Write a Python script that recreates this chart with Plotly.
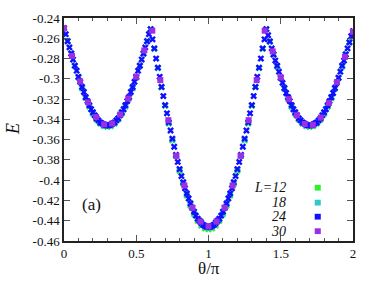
import numpy as np
import plotly.graph_objects as go

# ---------------- data ----------------
theta_dense = np.linspace(0, 2, 161)   # L=24 sampling
theta_mid = np.linspace(0, 2, 81)      # L=12, L=18 sampling
theta_l30 = np.linspace(0, 2, 37)      # L=30 sampling

E_L24 = [
    -0.250, -0.256, -0.263, -0.269, -0.275, -0.281, -0.287, -0.292, -0.298, -0.303,
    -0.308, -0.313, -0.318, -0.322, -0.326, -0.330, -0.333, -0.336, -0.339, -0.341,
    -0.343, -0.344, -0.345, -0.346, -0.346, -0.346, -0.345, -0.344, -0.343, -0.341,
    -0.339, -0.336, -0.333, -0.330, -0.326, -0.322, -0.318, -0.313, -0.308, -0.303,
    -0.298, -0.292, -0.287, -0.281, -0.275, -0.269, -0.263, -0.256, -0.251,
    -0.261, -0.270, -0.280, -0.289, -0.298, -0.308, -0.317, -0.326, -0.334, -0.343,
    -0.351, -0.359, -0.367, -0.375, -0.382, -0.389, -0.396, -0.402, -0.408, -0.413,
    -0.418, -0.423, -0.427, -0.431, -0.435, -0.438, -0.440, -0.442, -0.444, -0.445,
    -0.446, -0.446,
    -0.446, -0.445, -0.444, -0.442, -0.440, -0.438, -0.435, -0.431, -0.427, -0.423,
    -0.418, -0.413, -0.408, -0.402, -0.396, -0.389, -0.382, -0.375, -0.367, -0.359,
    -0.351, -0.343, -0.334, -0.326, -0.317, -0.308, -0.298, -0.289, -0.280, -0.270,
    -0.261, -0.251,
    -0.257, -0.263, -0.270, -0.276, -0.282, -0.287, -0.293, -0.299, -0.304, -0.309,
    -0.314, -0.318, -0.322, -0.326, -0.330, -0.333, -0.336, -0.339, -0.341, -0.343,
    -0.344, -0.345, -0.346, -0.346,
    -0.346, -0.345, -0.344, -0.343, -0.341, -0.339, -0.336, -0.333, -0.330, -0.326,
    -0.322, -0.318, -0.314, -0.309, -0.304, -0.299, -0.293, -0.287, -0.282, -0.276,
    -0.270, -0.264, -0.258, -0.253,
]

E_L12 = [
    -0.2500, -0.2627, -0.2752, -0.2873, -0.2988, -0.3094, -0.3189, -0.3274, -0.3344, -0.3401,
    -0.3442, -0.3467, -0.3475, -0.3467, -0.3442, -0.3401, -0.3344, -0.3274, -0.3189, -0.3094,
    -0.2988, -0.2873, -0.2752, -0.2627, -0.2510,
    -0.2704, -0.2895, -0.3083, -0.3266, -0.3441, -0.3607, -0.3763, -0.3907, -0.4037, -0.4152,
    -0.4252, -0.4335, -0.4400, -0.4447, -0.4476, -0.4485,
    -0.4476, -0.4447, -0.4400, -0.4335, -0.4252, -0.4152, -0.4037, -0.3907, -0.3763, -0.3607,
    -0.3441, -0.3266, -0.3083, -0.2895, -0.2704, -0.2510,
    -0.2636, -0.2760, -0.2879, -0.2993, -0.3098, -0.3192, -0.3276, -0.3346, -0.3402, -0.3442,
    -0.3467, -0.3475,
    -0.3467, -0.3442, -0.3402, -0.3346, -0.3276, -0.3192, -0.3098, -0.2993, -0.2879, -0.2760,
    -0.2640, -0.2535,
]

E_L18 = [
    -0.2500, -0.2626, -0.2750, -0.2870, -0.2984, -0.3089, -0.3184, -0.3267, -0.3337, -0.3393,
    -0.3434, -0.3459, -0.3467, -0.3459, -0.3434, -0.3393, -0.3337, -0.3267, -0.3184, -0.3089,
    -0.2984, -0.2870, -0.2750, -0.2626, -0.2510,
    -0.2702, -0.2892, -0.3079, -0.3260, -0.3434, -0.3599, -0.3753, -0.3896, -0.4025, -0.4140,
    -0.4239, -0.4321, -0.4386, -0.4432, -0.4461, -0.4470,
    -0.4461, -0.4432, -0.4386, -0.4321, -0.4239, -0.4140, -0.4025, -0.3896, -0.3753, -0.3599,
    -0.3434, -0.3260, -0.3079, -0.2892, -0.2702, -0.2510,
    -0.2635, -0.2758, -0.2876, -0.2989, -0.3093, -0.3187, -0.3269, -0.3339, -0.3394, -0.3434,
    -0.3459, -0.3467,
    -0.3459, -0.3434, -0.3394, -0.3339, -0.3269, -0.3187, -0.3093, -0.2989, -0.2876, -0.2758,
    -0.2639, -0.2535,
]

E_L30 = [
    -0.2500, -0.2774, -0.3025, -0.3232, -0.3377, -0.3449, -0.3441, -0.3353, -0.3195, -0.2978,
    -0.2720, -0.2525, -0.3013, -0.3408, -0.3760, -0.4053, -0.4273, -0.4409, -0.4455, -0.4409,
    -0.4273, -0.4053, -0.3760, -0.3408, -0.3013, -0.2525, -0.2729, -0.2985, -0.3201, -0.3359,
    -0.3446, -0.3454, -0.3382, -0.3238, -0.3032, -0.2783, -0.2535,
]

series_names = ["L=12", "18", "24", "30"]
series_colors = ["#2ef02e", "#2fc9c9", "#1010ff", "#9a2fe6"]

x_tickvals = [0, 0.5, 1, 1.5, 2]
x_ticktext = ["0", "0.5", "1", "1.5", "2"]
y_tickvals = [-0.24, -0.26, -0.28, -0.30, -0.32, -0.34, -0.36, -0.38, -0.40, -0.42, -0.44, -0.46]
y_ticktext = ["-0.24", "-0.26", "-0.28", "-0.3", "-0.32", "-0.34", "-0.36", "-0.38", "-0.4", "-0.42", "-0.44", "-0.46"]

# ---------------- figure ----------------
SERIF = "Liberation Serif"
fig = go.Figure()

traces = [
    (theta_mid, E_L12, series_colors[0], "x", 6),
    (theta_mid, E_L18, series_colors[1], "x", 6),
    (theta_dense, E_L24, series_colors[2], "x", 6),
    (theta_l30, E_L30, series_colors[3], "square", 6),
]
for (tx, ty, col, sym, sz), nm in zip(traces, series_names):
    fig.add_trace(go.Scatter(
        x=tx, y=ty, mode="markers", name=nm, showlegend=False, hoverinfo="skip",
        marker=dict(symbol=sym, size=sz, color=col, line=dict(width=0)),
    ))

axis_common = dict(
    showline=True, linecolor="#222", linewidth=1.5, mirror="ticks",
    ticks="inside", tickcolor="#555", tickwidth=1, showgrid=False, zeroline=False,
    tickfont=dict(family=SERIF, size=13, color="#111"),
)
fig.update_xaxes(range=[0, 2], tickvals=x_tickvals, ticktext=x_ticktext, ticklen=6,
                 minor=dict(dtick=0.1, tick0=0, ticks="inside", ticklen=3, tickcolor="#555"),
                 **axis_common)
fig.update_yaxes(range=[-0.46, -0.24], tickvals=y_tickvals, ticktext=y_ticktext, ticklen=6,
                 **axis_common)

# legend (text left of key, like the original)
leg_y = [0.239, 0.172, 0.109, 0.044]
annotations = [
    dict(text="θ/π", x=0.5, y=-0.123, xref="paper", yref="paper", showarrow=False,
         xanchor="center", yanchor="middle", borderpad=0,
         font=dict(family=SERIF, size=17, color="#111")),
    dict(text="<i>E</i>", x=-0.178, y=0.5, xref="paper", yref="paper", showarrow=False,
         textangle=-90, xanchor="center", yanchor="middle", borderpad=0,
         font=dict(family=SERIF, size=18, color="#111")),
    dict(text="(a)", x=0.094, y=0.165, xref="paper", yref="paper", showarrow=False,
         xanchor="center", yanchor="middle", font=dict(family=SERIF, size=17, color="#111")),
]
shapes = []
for nm, col, yy in zip(series_names, series_colors, leg_y):
    annotations.append(dict(text="<i>%s</i>" % nm, x=0.772, y=yy, xref="paper", yref="paper",
                            showarrow=False, xanchor="right", yanchor="middle", borderpad=0,
                            font=dict(family=SERIF, size=14, color="#111")))
    shapes.append(dict(type="rect", xref="paper", yref="paper",
                       x0=0.878 - 0.0105, x1=0.878 + 0.0105, y0=yy - 0.013, y1=yy + 0.013,
                       fillcolor=col, line=dict(width=0)))

fig.update_layout(
    width=374, height=281,
    margin=dict(l=64, r=21, t=11, b=40),
    paper_bgcolor="white", plot_bgcolor="white",
    annotations=annotations, shapes=shapes,
    showlegend=False, hovermode=False,
)

# remove the page's default body margin so the figure sits at the window's corner
fig.write_html("out.html", config={"displayModeBar": False},
               post_script="document.body.style.margin='0';")
